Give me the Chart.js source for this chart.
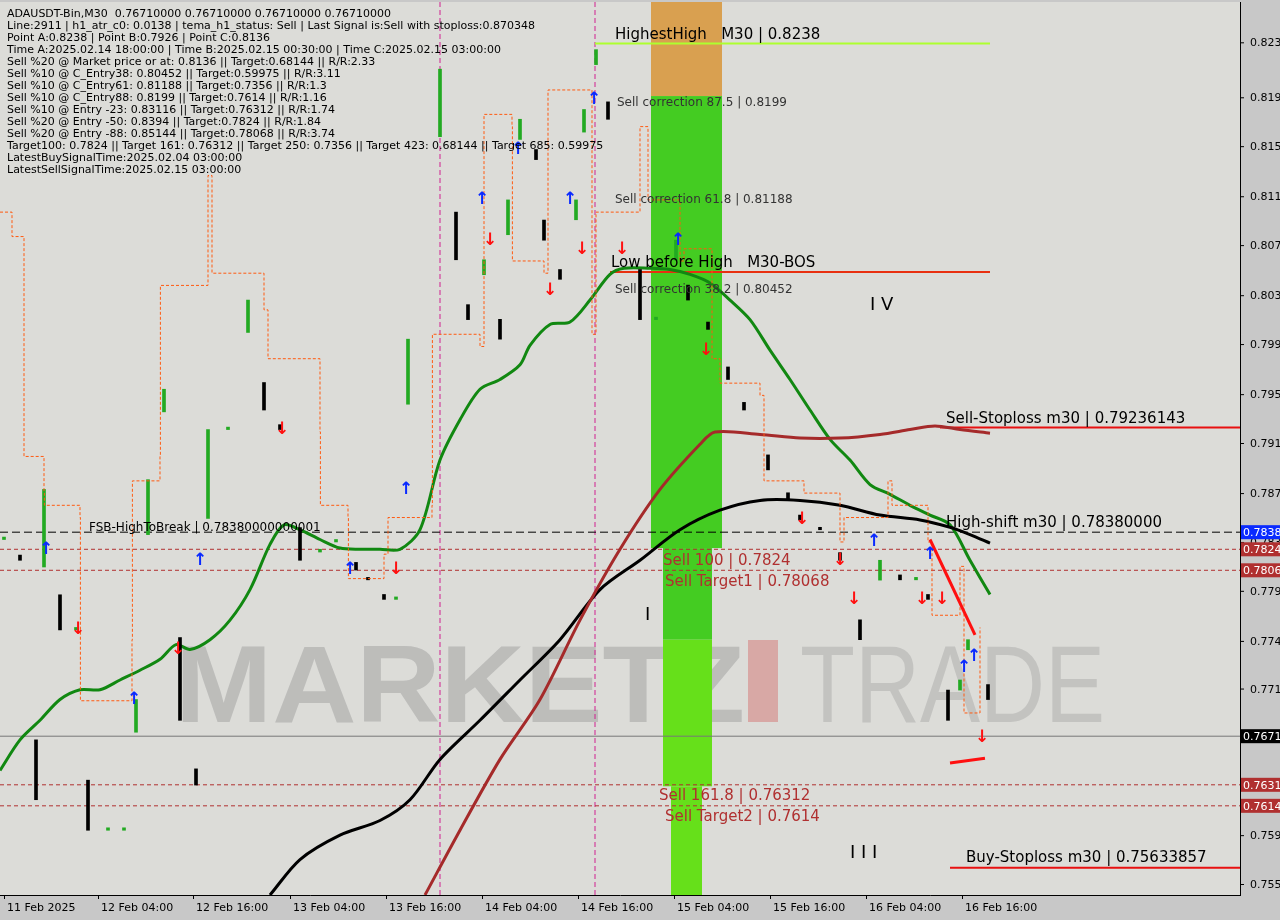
<!DOCTYPE html>
<html><head><meta charset="utf-8">
<script src="https://cdn.jsdelivr.net/npm/chart.js@4/dist/chart.umd.min.js"></script>
<style>html,body{margin:0;padding:0;background:#c8c8c8;}#w{width:1280px;height:920px;}</style>
</head><body><div id="w"><canvas id="c"></canvas></div>
<script>
// ---- data (x = M30 bar index, y = price) ----
const xTickBars = [1, 24.5, 48.25, 72.5, 96.5, 120.5, 144.5, 168.5, 192.5, 216.5, 240.5];
const xTickLabels = ["11 Feb 2025","12 Feb 04:00","12 Feb 16:00","13 Feb 04:00","13 Feb 16:00","14 Feb 04:00","14 Feb 16:00","15 Feb 04:00","15 Feb 16:00","16 Feb 04:00","16 Feb 16:00"];
const yTicks = [0.8239,0.8194,0.8154,0.8113,0.8073,0.8032,0.7992,0.7951,0.7911,0.7870,0.7830,0.7790,0.7749,0.7710,0.7670,0.7630,0.7590,0.7550];
const candleBars = [1,5,9,11,15,19,22,27,31,34,37,41,45,49,52,57,62,66,70,75,80,84,89,92,96,99,102,110,114,117,121,125,127,130,134,136,140,144,146,149,152,160,164,169,172,177,182,186,192,197,200,205,210,215,220,225,229,232,237,240,242,247];
const candleClose = [0.7832,0.7815,0.7619,0.7873,0.7758,0.7758,0.7594,0.7594,0.7594,0.7701,0.7881,0.7955,0.7684,0.7631,0.7922,0.7922,0.8028,0.7938,0.7922,0.7815,0.7824,0.7832,0.7807,0.7799,0.7783,0.7783,0.7996,0.8217,0.8061,0.8012,0.8061,0.7996,0.8110,0.8176,0.8143,0.8077,0.8045,0.8110,0.8184,0.8233,0.8176,0.8012,0.8012,0.8077,0.8028,0.8004,0.7963,0.7938,0.7889,0.7864,0.7848,0.7840,0.7815,0.7750,0.7815,0.7799,0.7799,0.7783,0.7684,0.7717,0.7750,0.7701];
const greenBars = [0,5,10,15,20,25,30,35,40,44,47.5,52.5,57.5,62.5,67.5,71,75,80,85,90,95,100,105,110,115,120,125,130,132.5,137.5,142.5,147.5,152.5,156,162.5,167.5,172.5,177.5,182.5,187.5,192.5,197.5,202.5,207.5,212.5,217.5,222.5,227.5,232.5,237.5,242.5,247.5];
const greenVals = [0.7643,0.7668,0.7684,0.7701,0.7709,0.7709,0.7717,0.7725,0.7734,0.7746,0.7742,0.7750,0.7766,0.7791,0.7828,0.7844,0.7840,0.7832,0.7825,0.7824,0.7824,0.7824,0.7840,0.7897,0.7930,0.7955,0.7963,0.7975,0.7991,0.8008,0.8010,0.8028,0.8049,0.8054,0.8054,0.8053,0.8049,0.8042,0.8028,0.8012,0.7987,0.7963,0.7938,0.7914,0.7897,0.7877,0.7869,0.7860,0.7852,0.7844,0.7815,0.7787];
const blackBars = [67.5,75,85,95,102.5,110,120,130,140,150,160,170,180,190,200,210,220,230,237.5,242.5,247.5];
const blackVals = [0.7541,0.7570,0.7590,0.7602,0.7619,0.7652,0.7684,0.7717,0.7750,0.7791,0.7815,0.7840,0.7856,0.7864,0.7864,0.7860,0.7852,0.7848,0.7842,0.7836,0.7829];
const brownBars = [106.25,115,125,135,145,155,165,175,178.75,190,200,210,220,227.5,233.75,240,247.5];
const brownVals = [0.7541,0.7594,0.7652,0.7701,0.7766,0.7824,0.7873,0.7910,0.7920,0.7918,0.7915,0.7915,0.7918,0.7922,0.7925,0.7922,0.7919];
const envBars = [0,3,6,11,11.1,20,20.1,33,33.1,40,40.1,52,53,66,67,80,80.1,87,87.1,96,97,108,108.1,120,121,128,128.1,136,137,148,149,160,162,170,171,178,180,190,191,200,201,210,211,222,223,232,233,240,241,245];
const envVals = [0.8100,0.8080,0.7900,0.7870,0.7860,0.7850,0.7700,0.7750,0.7880,0.7900,0.8040,0.8130,0.8050,0.8020,0.7980,0.7920,0.7860,0.7850,0.7800,0.7820,0.7850,0.7860,0.8000,0.7990,0.8180,0.8170,0.8060,0.8050,0.8200,0.8000,0.8100,0.8170,0.8110,0.8060,0.8070,0.7980,0.7960,0.7950,0.7880,0.7880,0.7870,0.7830,0.7850,0.7880,0.7860,0.7830,0.7770,0.7810,0.7690,0.7760];
const hLevels = {highest:0.8238, lowBeforeHigh:0.8051, sellStop:0.79236, highShift:0.7838, sell100:0.7824, target1:0.78068, last:0.7671, sell161:0.76312, target2:0.7614, buyStop:0.75634};
const upArrows = [[11.5,0.7824],[50,0.7815],[33.5,0.7701],[87.5,0.7807],[101.5,0.7873],[120.5,0.8110],[129.5,0.8151],[142.5,0.8110],[148.5,0.8192],[169.5,0.8077],[218.5,0.7830],[232.5,0.7820],[241,0.7727],[243.5,0.7736]];
const dnArrows = [[19.5,0.7758],[44.5,0.7742],[70.5,0.7922],[99,0.7807],[122.5,0.8077],[137.5,0.8036],[145.5,0.8069],[155.5,0.8069],[176.5,0.7987],[200.5,0.7848],[210,0.7815],[213.5,0.7783],[230.5,0.7783],[235.5,0.7783],[245.5,0.7670]];

const bandX = [162.75, 180.5];
const ctxEl = document.getElementById('c');
function px(s,ax,v){return s[ax].getPixelForValue(v);}

const overlay = {
  id:'overlay',
  beforeDatasetsDraw(ch){
    const c=ch.ctx, s=ch.scales, a=ch.chartArea;
    c.save();
    c.fillStyle='#dcdcd8'; c.fillRect(a.left,a.top,a.right-a.left,a.bottom-a.top);
    c.textBaseline='alphabetic';
    c.fillStyle='rgba(150,150,150,0.45)'; c.font='bold 110px "Liberation Sans"';
    let w=c.measureText('MARKETZ').width; c.save(); c.translate(175,722); c.scale(570/w,1); c.fillText('MARKETZ',0,0); c.restore();
    c.fillStyle='rgba(210,90,90,0.4)'; c.fillRect(748,640,30,82);
    c.fillStyle='rgba(150,150,150,0.35)'; c.font='110px "Liberation Sans"';
    w=c.measureText('TRADE').width; c.save(); c.translate(800,722); c.scale(305/w,1); c.fillText('TRADE',0,0); c.restore();
    const x0=px(s,'x',bandX[0]), x1=px(s,'x',bandX[1]);
    c.fillStyle='#d9a050'; c.fillRect(x0,a.top,x1-x0,px(s,'y',0.8195)-a.top);
    c.fillStyle='#44cc22'; c.fillRect(x0,px(s,'y',0.8195),x1-x0,px(s,'y',0.7825)-px(s,'y',0.8195));
    const x2=px(s,'x',165.75), x3=px(s,'x',178);
    c.fillStyle='#44cc22'; c.fillRect(x2,px(s,'y',0.7825),x3-x2,px(s,'y',0.7750)-px(s,'y',0.7825));
    const x4=px(s,'x',167.75), x5=px(s,'x',175.5);
    c.fillStyle='#66e01a'; c.fillRect(x2,px(s,'y',0.7750),x3-x2,px(s,'y',0.7630)-px(s,'y',0.7750));
    c.fillRect(x4,px(s,'y',0.7630),x5-x4,a.bottom-px(s,'y',0.7630));
    c.strokeStyle='#d02090'; c.setLineDash([5,3]); c.lineWidth=1;
    [110,148.75].forEach(b=>{const x=px(s,'x',b);c.beginPath();c.moveTo(x,a.top);c.lineTo(x,a.bottom);c.stroke();});
    function hl(v,col,from,to,dash,w){c.strokeStyle=col;c.lineWidth=w||1;c.setLineDash(dash||[]);const y=px(s,'y',v);c.beginPath();c.moveTo(from==null?a.left:px(s,'x',from),y);c.lineTo(to==null?a.right:px(s,'x',to),y);c.stroke();}
    hl(hLevels.highest,'#adff2f',148.75,247.5,[],2);
    hl(hLevels.lowBeforeHigh,'#e83010',152.5,247.5,[],2);
    hl(hLevels.sellStop,'#e81010',235,null,[],2);
    hl(hLevels.highShift,'#000',null,null,[8,4],1);
    hl(hLevels.sell100,'#b03030',null,null,[4,3],1);
    hl(hLevels.target1,'#b03030',null,null,[4,3],1);
    hl(hLevels.last,'#777',null,null,[],1);
    hl(hLevels.sell161,'#b03030',null,null,[4,3],1);
    hl(hLevels.target2,'#b03030',null,null,[4,3],1);
    hl(hLevels.buyStop,'#e81010',237.5,null,[],2);
    c.setLineDash([]);
    c.restore();
  },
  afterDatasetsDraw(ch){
    const c=ch.ctx, s=ch.scales, a=ch.chartArea;
    c.save();
    c.strokeStyle='#ff1010'; c.lineWidth=3;
    c.beginPath();c.moveTo(px(s,'x',232.5),px(s,'y',0.7832));c.lineTo(px(s,'x',243.75),px(s,'y',0.7754));c.stroke();
    c.beginPath();c.moveTo(px(s,'x',237.5),px(s,'y',0.7649));c.lineTo(px(s,'x',246.25),px(s,'y',0.7653));c.stroke();
    c.font='bold 17px "DejaVu Sans"'; c.textAlign='center'; c.textBaseline='middle';
    c.fillStyle='#0a2aff'; upArrows.forEach(p=>c.fillText('↑',px(s,'x',p[0]),px(s,'y',p[1])));
    c.fillStyle='#ff1010'; dnArrows.forEach(p=>c.fillText('↓',px(s,'x',p[0]),px(s,'y',p[1])));
    c.textAlign='left'; c.textBaseline='alphabetic';
    function t(str,x,y,col,size){c.fillStyle=col;c.font=(size||12)+'px "DejaVu Sans"';c.fillText(str,x,y);}
    const info=["ADAUSDT-Bin,M30  0.76710000 0.76710000 0.76710000 0.76710000","Line:2911 | h1_atr_c0: 0.0138 | tema_h1_status: Sell | Last Signal is:Sell with stoploss:0.870348","Point A:0.8238 | Point B:0.7926 | Point C:0.8136","Time A:2025.02.14 18:00:00 | Time B:2025.02.15 00:30:00 | Time C:2025.02.15 03:00:00","Sell %20 @ Market price or at: 0.8136 || Target:0.68144 || R/R:2.33","Sell %10 @ C_Entry38: 0.80452 || Target:0.59975 || R/R:3.11","Sell %10 @ C_Entry61: 0.81188 || Target:0.7356 || R/R:1.3","Sell %10 @ C_Entry88: 0.8199 || Target:0.7614 || R/R:1.16","Sell %10 @ Entry -23: 0.83116 || Target:0.76312 || R/R:1.74","Sell %20 @ Entry -50: 0.8394 || Target:0.7824 || R/R:1.84","Sell %20 @ Entry -88: 0.85144 || Target:0.78068 || R/R:3.74","Target100: 0.7824 || Target 161: 0.76312 || Target 250: 0.7356 || Target 423: 0.68144 || Target 685: 0.59975","LatestBuySignalTime:2025.02.04 03:00:00","LatestSellSignalTime:2025.02.15 03:00:00"];
    info.forEach((l,i)=>t(l,7,17+i*12,'#000',11));
    t('HighestHigh   M30 | 0.8238',615,39,'#000',15);
    t('Sell correction 87.5 | 0.8199',617,106,'#333',12);
    t('Sell correction 61.8 | 0.81188',615,203,'#333',12);
    t('Low before High   M30-BOS',611,267,'#000',15);
    t('Sell correction 38.2 | 0.80452',615,293,'#333',12);
    t('I V',870,310,'#000',18);
    t('Sell-Stoploss m30 | 0.79236143',946,423,'#000',15);
    t('FSB-HighToBreak | 0.78380000000001',89,531,'#000',12);
    t('High-shift m30 | 0.78380000',946,527,'#000',15);
    t('Sell 100 | 0.7824',663,565,'#b03030',15);
    t('Sell Target1 | 0.78068',665,586,'#b03030',15);
    t('I',645,620,'#000',18);
    t('Sell 161.8 | 0.76312',659,800,'#b03030',15);
    t('Sell Target2 | 0.7614',665,821,'#b03030',15);
    t('I I I',850,858,'#000',18);
    t('Buy-Stoploss m30 | 0.75633857',966,862,'#000',15);
    c.font='11px "DejaVu Sans"'; c.fillStyle='#000';
    yTicks.forEach(v=>{const y=px(s,'y',v);c.fillRect(a.right,y,4,1);c.fillText(v.toFixed(4),a.right+10,y+4);});
    xTickBars.forEach((b,i)=>{const x=px(s,'x',b);c.fillRect(x,a.bottom,1,4);c.fillText(xTickLabels[i],x+3,a.bottom+16);});
    const boxes=[[hLevels.highShift,'#0a2aff','0.7838'],[hLevels.sell100,'#b03030','0.7824'],[hLevels.target1,'#b03030','0.7806'],[hLevels.last,'#000','0.7671'],[hLevels.sell161,'#b03030','0.7631'],[hLevels.target2,'#b03030','0.7614']];
    boxes.forEach(b=>{const y=px(s,'y',b[0]);c.fillStyle=b[1];c.fillRect(a.right+1,y-7,40,14);c.fillStyle='#fff';c.fillText(b[2],a.right+3,y+4);});
    c.restore();
  }
};

const candles = candleBars.map((b,i)=>{const prev=i?candleClose[i-1]:candleClose[0]; const o=candleClose[i]+(prev-candleClose[i])*0.25; return {x:b, y:[o===candleClose[i]?o+0.0002:o, candleClose[i]]};});
const toPts=(xs,ys)=>xs.map((x,i)=>({x,y:ys[i]}));

new Chart(ctxEl,{
  data:{datasets:[
    {type:'line',data:toPts(envBars,envVals),borderColor:'#ff5a10',borderWidth:1,borderDash:[3,2],pointRadius:0,stepped:true},
    {type:'bar',data:candles,backgroundColor:candleClose.map((v,i)=>i&&v<candleClose[i-1]?'#000':'#22aa22'),barThickness:3},
    {type:'line',data:toPts(brownBars,brownVals),borderColor:'#a52a2a',borderWidth:3,pointRadius:0,tension:0.3},
    {type:'line',data:toPts(blackBars,blackVals),borderColor:'#000',borderWidth:3,pointRadius:0,tension:0.3},
    {type:'line',data:toPts(greenBars,greenVals),borderColor:'#118811',borderWidth:3,pointRadius:0,tension:0.3}
  ]},
  options:{
    responsive:true,maintainAspectRatio:false,animation:false,
    layout:{padding:{top:2,left:0,right:0,bottom:0}},
    plugins:{legend:{display:false},tooltip:{enabled:false}},
    scales:{
      x:{type:'linear',min:0,max:310,offset:false,grid:{display:false,offset:false},border:{color:'#000'},
        afterFit(ax){ax.height=25;}, ticks:{display:false}},
      y:{type:'linear',position:'right',min:0.7541,max:0.8272,grid:{display:false},border:{color:'#000'},
        afterFit(ax){ax.width=40;}, ticks:{display:false}}
    }
  },
  plugins:[overlay]
});
</script></body></html>
